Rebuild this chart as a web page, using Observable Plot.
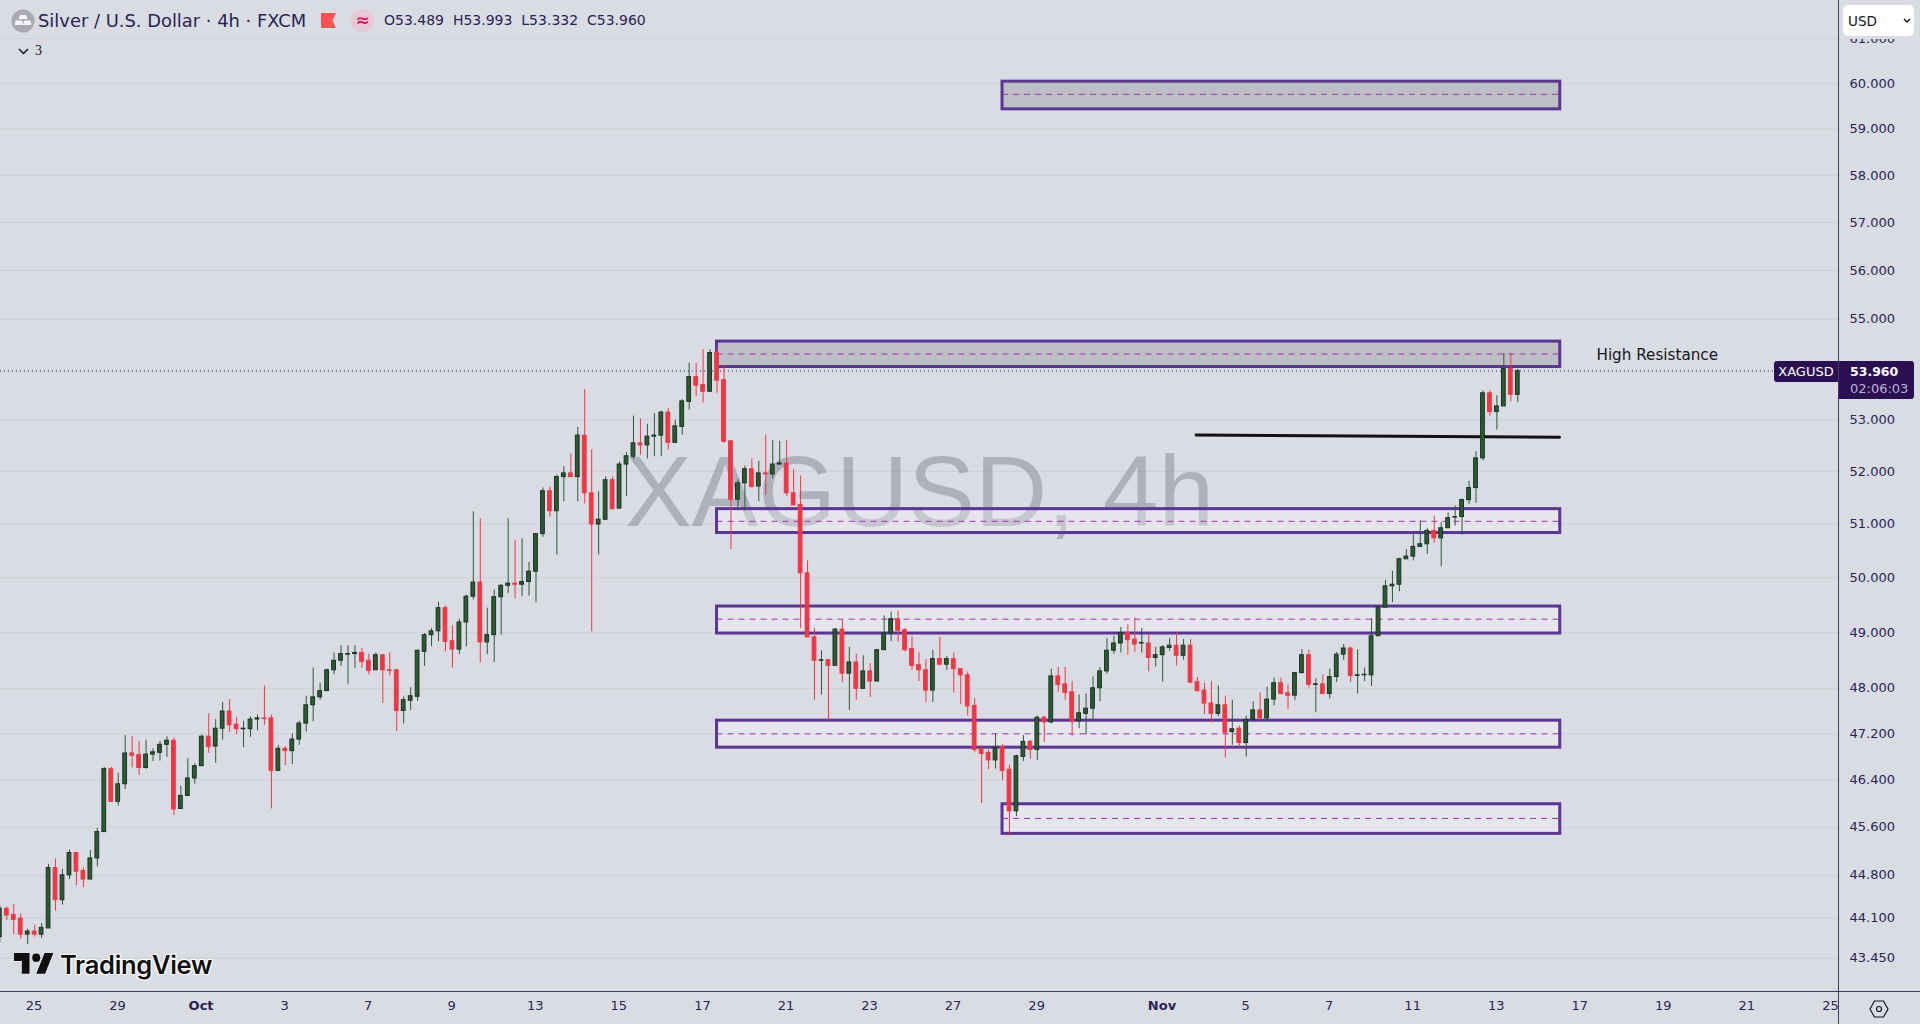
<!DOCTYPE html>
<html>
<head>
<meta charset="utf-8">
<script src="https://cdn.jsdelivr.net/npm/d3@7"></script>
<script src="https://cdn.jsdelivr.net/npm/@observablehq/plot@0.6"></script>
<style>
html,body{margin:0;padding:0;background:#d9dce3;width:1920px;height:1024px;overflow:hidden;font-family:"DejaVu Sans",sans-serif;}
#chart{position:absolute;left:0;top:0;}
.abs{position:absolute;white-space:nowrap;}
</style>
</head>
<body>
<div id="chart"></div>
<div class="abs" style="left:1838px;top:0;width:1px;height:1024px;background:#3c3a6b"></div>
<div class="abs" style="left:0;top:991px;width:1920px;height:1px;background:#3c3a6b"></div>

<svg class="abs" style="left:11px;top:9px" width="24" height="24" viewBox="0 0 24 24"><circle cx="12" cy="12" r="11.5" fill="#a9a9b5"/><path d="M9 6h6l1.5 4h-9zM4.5 11.5h6.5l1.2 4.5H3.5zM13 11.5h6.5l1 4.500H12z" fill="#f4f4f6"/></svg>
<div class="abs" style="left:38px;top:10px;font-size:17.900px;color:#2a2456">Silver / U.S. Dollar · 4h · FXCM</div>
<svg class="abs" style="left:321px;top:13px" width="15" height="15" viewBox="0 0 15 15"><path d="M0 0H15L11.500 7.500L15 15H0z" fill="#ff5252"/></svg>
<div class="abs" style="left:351px;top:9px;width:23px;height:23px;border-radius:50%;background:#e6c8d6;color:#d81b60;font-size:17px;font-weight:bold;line-height:22px;text-align:center">≈</div>
<div class="abs" style="left:384px;top:12px;font-size:14px;color:#2a2456">O53.489&nbsp;&nbsp;H53.993&nbsp;&nbsp;L53.332&nbsp;&nbsp;C53.960</div>
<svg class="abs" style="left:18px;top:48px" width="11" height="7" viewBox="0 0 11 7"><path d="M1 1L5.500 5.500L10 1" fill="none" stroke="#131722" stroke-width="1.500"/></svg>
<div class="abs" style="left:35px;top:43px;font-size:14px;color:#131722;font-family:'Liberation Serif',serif">3</div>

<div class="abs" style="left:1843px;top:30px;width:71px;height:9px;background:#d9dce3"></div>
<div class="abs" style="left:1843px;top:5px;width:71px;height:31px;background:#fff;border-radius:5px"></div>
<div class="abs" style="left:1848px;top:13px;font-size:13.500px;color:#131722">USD</div>
<svg class="abs" style="left:1903px;top:18px" width="8" height="6" viewBox="0 0 8 6"><path d="M1 1L4 4L7 1" fill="none" stroke="#131722" stroke-width="1.400"/></svg>

<div class="abs" style="left:1774px;top:361px;width:64px;height:21px;background:#2a0f52;border-radius:3px 0 0 3px;color:#fff;font-size:13px;line-height:21px;text-align:center">XAGUSD</div>
<div class="abs" style="left:1839px;top:361px;width:75px;height:38px;background:#2a0f52;border-radius:0 3px 3px 0"></div>
<div class="abs" style="left:1850px;top:364px;color:#fff;font-size:12.500px;font-weight:bold">53.960</div>
<div class="abs" style="left:1850px;top:381px;color:#bfb3d2;font-size:13px">02:06:03</div>

<svg class="abs" style="left:1869px;top:1000px" width="20" height="18" viewBox="0 0 20 18"><path d="M5.500 1H14.500L19 9L14.500 17H5.500L1 9z" fill="none" stroke="#131722" stroke-width="1.200"/><circle cx="10" cy="9" r="2.500" fill="none" stroke="#131722" stroke-width="1.200"/></svg>

<svg class="abs" style="left:14px;top:953px" width="40" height="22" viewBox="0 4 36 19" preserveAspectRatio="none"><path d="M14 22H7V11H0V4h14v18zM28 22h-8l7.500-18h8L28 22z" fill="#0f0f0f" stroke="#fff" stroke-width="0.800" paint-order="stroke"/><circle cx="20" cy="8" r="3.600" fill="#0f0f0f"/></svg>
<div class="abs" style="left:60px;top:949px;font-family:Inter,sans-serif;font-size:25.500px;font-weight:600;color:#0f0f0f;letter-spacing:-0.300px;text-shadow:1px 0 #fff,-1px 0 #fff,0 1px #fff,0 -1px #fff,1px 1px #fff,-1px -1px #fff,1px -1px #fff,-1px 1px #fff">TradingView</div>

<script>
const opens = [43.79,
44.25,44.15,44.09,43.83,43.88,43.83,43.93,44.92,44.39,44.80,
45.17,44.87,44.73,45.08,45.52,46.59,46.03,46.33,46.86,46.83,
46.61,46.84,46.87,47.01,47.08,45.91,46.13,46.43,46.64,47.15,
46.98,47.29,47.59,47.36,47.28,47.28,47.45,47.47,47.47,46.56,
46.94,46.90,47.10,47.38,47.70,47.84,47.95,48.32,48.49,48.60,
48.61,48.63,48.49,48.32,48.59,48.32,48.32,47.60,47.78,47.85,
48.65,48.95,49.02,49.44,48.84,48.69,49.18,49.65,49.91,48.82,
48.95,49.64,49.85,49.89,49.87,49.92,50.11,50.81,51.62,51.24,
51.89,51.96,51.89,52.69,51.58,50.99,51.08,51.83,51.29,52.13,
52.28,52.54,52.50,52.67,52.69,53.14,52.55,52.86,53.35,53.84,
53.68,53.55,54.32,53.78,52.58,51.46,51.77,52.04,51.71,51.96,
51.94,52.13,52.15,51.58,51.36,50.08,48.91,48.49,48.50,48.40,
49.05,48.26,48.46,47.99,48.30,48.12,48.68,48.98,49.24,49.04,
48.70,48.41,48.32,47.96,48.52,48.42,48.52,48.34,48.23,47.69,
46.93,46.87,46.74,46.97,46.58,45.87,46.80,47.06,46.92,47.48,
47.40,48.21,48.07,47.93,47.42,47.55,47.64,48.00,48.30,48.67,
48.80,48.99,48.87,48.80,48.80,48.54,48.59,48.72,48.76,48.58,
48.76,48.11,47.96,47.73,47.55,47.70,47.23,47.29,47.04,47.44,
47.61,47.47,47.80,48.09,47.91,47.87,48.27,48.59,48.06,48.07,
47.90,48.20,48.60,48.71,48.22,48.23,48.23,48.93,49.45,49.84,
49.87,50.34,50.39,50.57,50.62,50.87,50.73,50.92,51.12,51.13,
51.45,51.68,52.25,53.52,53.15,53.26,54.00,53.489];

const highs = [44.30,
44.28,44.32,44.17,43.92,43.98,44.01,44.98,45.07,44.90,45.22,
45.17,44.92,45.21,45.58,46.62,46.62,46.52,47.17,47.15,47.07,
47.09,46.94,47.07,47.15,47.13,46.30,46.77,46.68,47.18,47.55,
47.45,47.75,47.80,47.48,47.42,47.50,47.53,48.04,47.53,47.00,
46.98,47.20,47.42,47.86,48.36,48.09,48.34,48.63,48.76,48.76,
48.76,48.71,48.61,48.63,48.59,48.64,48.34,47.85,48.01,48.68,
48.98,49.07,49.55,49.48,49.12,49.24,49.68,51.23,51.10,49.44,
49.77,49.87,51.10,50.69,50.72,50.28,50.81,51.68,51.70,51.93,
52.09,52.33,52.85,53.59,52.41,51.61,51.89,51.89,52.18,52.36,
53.07,53.02,52.91,53.12,53.17,53.22,52.99,53.39,54.12,54.11,
54.39,54.39,54.42,54.04,52.58,51.84,52.10,52.24,52.19,52.70,
52.60,52.58,52.60,52.03,51.91,50.31,49.07,48.67,48.50,49.07,
49.22,48.73,48.61,48.58,48.44,48.68,49.30,49.37,49.39,49.07,
48.92,48.63,48.51,48.68,48.91,48.57,48.63,48.34,48.29,47.82,
47.00,46.92,47.20,47.02,46.66,46.83,47.17,47.09,47.51,47.51,
48.34,48.37,48.37,48.12,47.88,47.90,48.20,48.37,48.89,48.93,
49.09,49.14,49.26,49.07,48.96,48.73,48.76,48.89,49.00,48.87,
48.87,48.19,48.09,48.12,48.04,47.86,47.79,47.34,47.51,47.76,
47.92,48.02,48.18,48.18,48.06,48.27,48.69,48.68,48.17,48.24,
48.34,48.64,48.78,48.73,48.69,48.36,49.25,49.45,49.95,50.12,
50.36,50.52,50.80,51.06,50.92,51.15,51.03,51.21,51.34,51.47,
51.81,52.38,53.57,53.57,53.47,54.31,54.31,53.993];

const lows = [43.70,
44.06,43.83,43.76,43.67,43.79,43.77,43.93,44.21,44.31,44.73,
44.63,44.60,44.73,44.94,45.52,46.03,45.96,46.24,46.61,46.48,
46.59,46.72,46.73,46.79,45.80,45.91,46.13,46.33,46.64,46.86,
46.69,47.09,47.23,47.19,46.96,47.14,47.25,47.35,45.91,46.56,
46.65,46.67,47.00,47.23,47.41,47.79,47.95,48.24,48.39,48.07,
48.35,48.36,48.24,48.32,47.73,48.22,47.24,47.37,47.61,47.77,
48.39,48.74,48.83,48.65,48.36,48.60,48.74,49.59,48.45,48.60,
48.46,48.95,49.71,49.61,49.65,49.66,49.54,50.75,51.13,50.42,
51.42,51.89,51.42,51.38,49.01,50.42,51.08,51.26,51.29,51.52,
52.23,52.31,52.24,52.28,52.28,52.41,52.54,52.70,53.19,53.45,
53.33,53.55,53.52,52.54,50.52,51.27,51.24,51.68,51.42,51.54,
51.86,52.13,51.52,51.35,49.07,48.91,47.79,47.88,47.42,48.40,
48.10,47.61,47.79,47.99,47.84,48.12,48.68,48.83,48.82,48.65,
48.32,48.12,47.75,47.75,48.40,48.32,47.92,47.71,47.51,46.87,
46.00,46.58,46.59,46.39,45.46,45.78,46.72,46.76,46.74,47.05,
47.37,47.93,47.79,47.16,47.29,47.18,47.44,47.76,48.25,48.61,
48.63,48.59,48.64,48.63,48.29,48.38,48.11,48.66,48.40,48.50,
48.08,47.93,47.54,47.39,47.50,46.78,47.00,46.97,46.80,47.42,
47.44,47.41,47.69,47.88,47.63,47.78,48.25,48.00,47.57,47.89,
47.81,48.10,48.50,48.10,47.90,48.12,48.03,48.93,49.45,49.54,
49.74,50.34,50.31,50.57,50.43,50.64,50.20,50.91,50.96,50.79,
51.37,51.39,52.20,53.07,52.80,53.26,53.35,53.332];

const closes = [44.25,
44.14,44.07,43.83,43.88,43.83,43.94,44.92,44.39,44.80,45.17,
44.86,44.73,45.08,45.52,46.59,46.03,46.33,46.86,46.82,46.61,
46.84,46.88,47.01,47.08,45.90,46.13,46.43,46.64,47.15,46.97,
47.29,47.59,47.35,47.28,47.29,47.45,47.47,47.46,46.56,46.94,
46.90,47.10,47.38,47.70,47.84,47.95,48.32,48.49,48.61,48.61,
48.63,48.47,48.31,48.59,48.32,48.31,47.60,47.79,47.86,48.67,
48.95,49.02,49.44,48.83,48.69,49.18,49.65,49.91,48.82,48.95,
49.64,49.85,49.89,49.87,49.92,50.11,50.81,51.62,51.24,51.89,
51.96,51.89,52.69,51.58,50.99,51.08,51.83,51.28,52.13,52.29,
52.54,52.50,52.67,52.69,53.14,52.55,52.87,53.36,53.84,53.67,
53.55,54.32,53.77,52.57,51.46,51.77,52.04,51.70,51.96,51.94,
52.13,52.15,51.58,51.35,50.08,48.91,48.49,48.50,48.40,49.05,
48.26,48.46,47.99,48.30,48.12,48.68,48.98,49.24,49.03,48.68,
48.40,48.32,47.96,48.52,48.42,48.52,48.34,48.23,47.68,46.92,
46.85,46.74,46.96,46.56,45.87,46.81,47.06,46.92,47.48,47.40,
48.21,48.06,47.92,47.42,47.56,47.64,48.00,48.30,48.67,48.80,
48.99,48.86,48.78,48.81,48.54,48.59,48.73,48.76,48.58,48.76,
48.10,47.95,47.73,47.55,47.70,47.22,47.28,47.04,47.44,47.61,
47.47,47.80,48.09,47.90,47.87,48.27,48.59,48.06,48.07,47.90,
48.20,48.60,48.71,48.22,48.23,48.24,48.93,49.45,49.84,49.87,
50.34,50.39,50.57,50.62,50.87,50.73,50.92,51.11,51.13,51.45,
51.68,52.25,53.52,53.15,53.26,54.00,53.49,53.960];

// Price zones (bar index for start/end, USD for levels)
const zoneStarts  = [144,103,103,103,103,144];
const zoneEnds    = [224.1,224.1,224.1,224.1,224.1,224.1];
const zoneTops    = [60.04,54.55,51.28,49.47,47.43,45.99];
const zoneBottoms = [59.43,54.04,50.83,48.98,46.96,45.49];
const zoneMids    = [59.76,54.30,51.05,49.24,47.20,45.75];
const zoneStrong  = [true,true,false,false,false,false];

// Trend line
const trendBars   = [171.8,224];
const trendPrices = [52.70,52.66];

// Axis ticks
const priceTicks = [61,60,59,58,57,56,55,53,52,51,50,49,48,47.2,46.4,45.6,44.8,44.1,43.45];
const dayTickBars   = [4.9,16.9,40.9,52.9,64.9,76.9,88.9,100.9,112.9,124.9,136.9,148.9,178.9,190.9,202.9,214.9,226.9,238.9,250.9,262.9];
const dayTickLabels = ["25","29","3","7","9","13","15","17","21","23","27","29","5","7","11","13","17","19","21","25"];
const monthTickBars   = [28.9,166.9];
const monthTickLabels = ["Oct","Nov"];

const lastPrice = 53.96;
const resistanceLabel = {bar:229.3, price:54.28, text:"High Resistance"};

const xDomain = [0.095,264.06];
const yDomain = [42.92,61.865];

const bars = opens.map((o,i)=>({i,o,h:highs[i],l:lows[i],c:closes[i]}));
const up = bars.filter(d=>d.c>=d.o);
const down = bars.filter(d=>d.c<d.o);
const zones = zoneStarts.map((s,i)=>({s,e:zoneEnds[i],t:zoneTops[i],b:zoneBottoms[i],m:zoneMids[i],strong:zoneStrong[i]}));
const trend = trendBars.map((b,i)=>({b,p:trendPrices[i]}));

const GREEN="#2c5a35", GREEN_EDGE="#1a3322", RED="#f23645";
const INK="#2a2456";
const halfBody=0.27;
const dayLabel=new Map(dayTickBars.map((b,i)=>[b,dayTickLabels[i]]));
const monthLabel=new Map(monthTickBars.map((b,i)=>[b,monthTickLabels[i]]));

const chart = Plot.plot({
  width:1920, height:1024,
  marginTop:0, marginBottom:33, marginLeft:0, marginRight:82,
  style:{background:"transparent",fontFamily:"'DejaVu Sans',sans-serif",overflow:"visible"},
  x:{type:"linear",domain:xDomain,range:[0,1838],axis:null},
  y:{type:"log",domain:yDomain,range:[991,0],axis:null},
  marks:[
    Plot.gridY(priceTicks,{stroke:"#ced1d7",strokeOpacity:1,strokeWidth:1}),
    Plot.text(["XAGUSD, 4h"],{frameAnchor:"middle",dy:-2,text:d=>d,fontSize:100,fontFamily:"'Liberation Sans',sans-serif",fill:"#6e7180",fillOpacity:0.4}),
    Plot.ruleY([lastPrice],{stroke:"#2a1f5e",strokeDasharray:"1,3",strokeWidth:1}),
    Plot.rect(zones.filter(d=>d.strong),{x1:"s",x2:"e",y1:"b",y2:"t",fill:"#7f7f7f",fillOpacity:0.3}),
    Plot.rect(zones.filter(d=>!d.strong),{x1:"s",x2:"e",y1:"b",y2:"t",fill:"#ffffff",fillOpacity:0.3}),
    Plot.ruleY(zones,{y:"m",x1:"s",x2:"e",stroke:"#a22fb8",strokeWidth:1,strokeDasharray:"6,5"}),
    Plot.rect(zones,{x1:"s",x2:"e",y1:"b",y2:"t",fill:"none",stroke:"#5b3494",strokeWidth:3}),
    Plot.line(trend,{x:"b",y:"p",stroke:"#111111",strokeWidth:3}),
    Plot.ruleX(down,{x:"i",y1:"l",y2:"h",stroke:RED,strokeWidth:1}),
    Plot.ruleX(up,{x:"i",y1:"l",y2:"h",stroke:GREEN,strokeWidth:1}),
    Plot.rect(down,{x1:d=>d.i-halfBody,x2:d=>d.i+halfBody,y1:"o",y2:"c",fill:RED,stroke:RED,strokeWidth:1}),
    Plot.rect(up,{x1:d=>d.i-halfBody,x2:d=>d.i+halfBody,y1:"o",y2:"c",fill:GREEN,stroke:GREEN_EDGE,strokeWidth:1}),
    Plot.text([resistanceLabel],{x:"bar",y:"price",text:"text",textAnchor:"start",fontSize:15.200,fill:"#131722"}),
    Plot.axisY({anchor:"right",ticks:priceTicks,tickFormat:d3.format(".3f"),tickSize:0,tickPadding:11,fontSize:13,fill:INK}),
    Plot.axisX({anchor:"bottom",ticks:dayTickBars,tickFormat:d=>dayLabel.get(d),tickSize:0,tickPadding:9,fontSize:13,fill:INK}),
    Plot.axisX({anchor:"bottom",ticks:monthTickBars,tickFormat:d=>monthLabel.get(d),tickSize:0,tickPadding:9,fontSize:13,fontWeight:"bold",fill:INK})
  ]
});
document.getElementById("chart").appendChild(chart);
</script>
</body>
</html>
